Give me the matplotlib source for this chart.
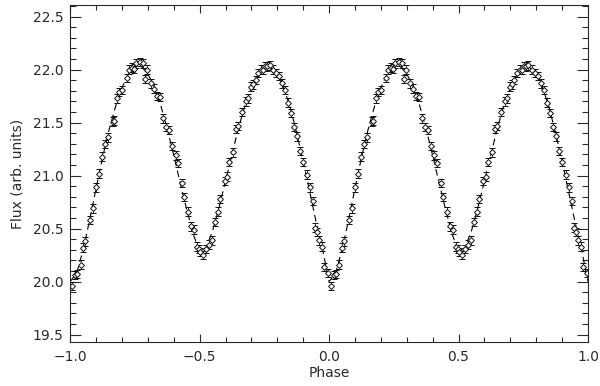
import numpy as np
import matplotlib
matplotlib.use('Agg')
import matplotlib.pyplot as plt
from matplotlib.ticker import MultipleLocator

# folded light curve, phase 0..1 (shown again at phase-1)
phase = [0.007, 0.020, 0.027, 0.040, 0.051, 0.058, 0.077, 0.088, 0.100, 0.111,
         0.124, 0.136, 0.146, 0.165, 0.169, 0.181, 0.190, 0.200, 0.219, 0.229,
         0.240, 0.246, 0.255, 0.270, 0.280, 0.290, 0.297, 0.313, 0.323, 0.336,
         0.347, 0.359, 0.371, 0.383, 0.393, 0.407, 0.418, 0.431, 0.441, 0.455,
         0.467, 0.477, 0.490, 0.497, 0.502, 0.512, 0.525, 0.538, 0.548, 0.561,
         0.570, 0.580, 0.596, 0.606, 0.615, 0.628, 0.641, 0.650, 0.664, 0.680,
         0.686, 0.699, 0.705, 0.716, 0.725, 0.737, 0.745, 0.752, 0.760, 0.770,
         0.783, 0.796, 0.808, 0.819, 0.830, 0.840, 0.853, 0.866, 0.876, 0.889,
         0.901, 0.914, 0.925, 0.937, 0.946, 0.952, 0.960, 0.972, 0.982, 0.995]
flux = [19.96, 20.06, 20.07, 20.16, 20.32, 20.38, 20.58, 20.69, 20.89, 21.02,
        21.18, 21.30, 21.36, 21.51, 21.52, 21.73, 21.79, 21.81, 21.92, 22.00,
        22.02, 22.01, 22.06, 22.07, 22.06, 21.91, 22.00, 21.87, 21.82, 21.75,
        21.74, 21.54, 21.46, 21.43, 21.28, 21.19, 21.12, 20.93, 20.80, 20.66,
        20.52, 20.49, 20.33, 20.31, 20.28, 20.25, 20.31, 20.35, 20.39, 20.56,
        20.66, 20.78, 20.95, 20.99, 21.13, 21.22, 21.44, 21.47, 21.60, 21.70,
        21.73, 21.84, 21.86, 21.90, 21.97, 22.00, 22.00, 22.03, 22.03, 22.04,
        22.00, 21.97, 21.94, 21.87, 21.81, 21.69, 21.59, 21.46, 21.37, 21.23,
        21.13, 21.01, 20.89, 20.76, 20.51, 20.47, 20.39, 20.33, 20.14, 20.08]
flux_err = 0.04

# model curve
model_phase = [0.000, 0.025, 0.050, 0.075, 0.100, 0.125, 0.150, 0.175, 0.200, 0.225,
               0.250, 0.275, 0.300, 0.325, 0.350, 0.375, 0.400, 0.425, 0.450, 0.475,
               0.500, 0.525, 0.550, 0.575, 0.600, 0.625, 0.650, 0.675, 0.700, 0.725,
               0.750, 0.775, 0.800, 0.825, 0.850, 0.875, 0.900, 0.925, 0.950, 0.975, 1.000]
model_flux = [20.00, 20.08, 20.30, 20.58, 20.88, 21.17, 21.43, 21.65, 21.83, 21.96,
              22.03, 22.03, 21.96, 21.84, 21.66, 21.44, 21.19, 20.93, 20.68, 20.45,
              20.28, 20.32, 20.48, 20.70, 20.95, 21.20, 21.45, 21.66, 21.83, 21.95,
              22.02, 22.02, 21.95, 21.83, 21.64, 21.40, 21.13, 20.85, 20.56, 20.30, 20.00]

phase = np.array(phase)
flux = np.array(flux)
model_phase = np.array(model_phase)
model_flux = np.array(model_flux)

all_phase = np.concatenate([phase - 1, phase])
all_flux = np.concatenate([flux, flux])
all_mphase = np.concatenate([model_phase[:-1] - 1, model_phase])
all_mflux = np.concatenate([model_flux[:-1], model_flux])

fig = plt.figure(figsize=(6, 3.86), dpi=100)
ax = fig.add_axes([0.117, 0.114, 0.863, 0.873])

ink = '#2a2a2a'
ax.plot(all_mphase, all_mflux, color='black', lw=0.8, dashes=(6, 4))
ax.errorbar(all_phase, all_flux, yerr=flux_err, fmt='D', ms=3.0, mfc='white',
            mec='#111111', mew=0.7, ecolor='#111111', elinewidth=0.6, capsize=2.0,
            capthick=0.6)

ax.set_xlim(-1, 1)
ax.set_ylim(19.43, 22.61)
ax.xaxis.set_major_locator(MultipleLocator(0.5))
ax.xaxis.set_minor_locator(MultipleLocator(0.1))
ax.yaxis.set_major_locator(MultipleLocator(0.5))
ax.yaxis.set_minor_locator(MultipleLocator(0.1))
ax.tick_params(axis='both', which='both', direction='in', top=True, right=True,
               color=ink, width=0.8, labelcolor=ink, labelsize=10)
ax.tick_params(axis='x', which='major', length=6, pad=6)
ax.tick_params(axis='x', which='minor', length=3.5)
ax.tick_params(axis='y', which='major', length=8, pad=5)
ax.tick_params(axis='y', which='minor', length=4.5)
for s in ax.spines.values():
    s.set_color(ink)
    s.set_linewidth(0.8)

ax.set_xlabel('Phase', fontsize=10, color=ink, labelpad=1)
ax.set_ylabel('Flux (arb. units)', fontsize=10, color=ink, labelpad=6)

fig.savefig('out.png', dpi=100)
